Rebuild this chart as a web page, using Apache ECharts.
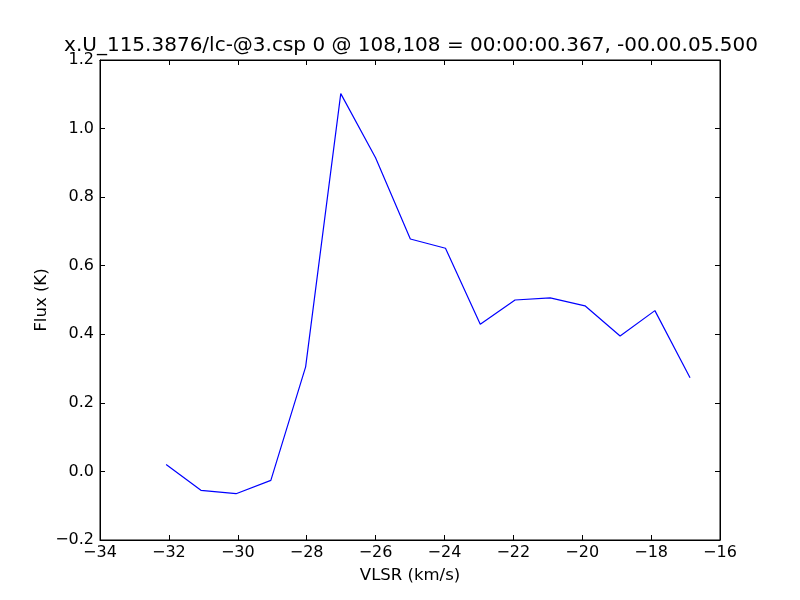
<!DOCTYPE html>
<html>
<head>
<meta charset="utf-8">
<script src="https://cdn.jsdelivr.net/npm/echarts@6/dist/echarts.min.js"></script>
<style>html,body{margin:0;padding:0;background:#fff;}#c{width:800px;height:600px;}</style>
</head>
<body>
<div id="c"></div>
<script>
const titleText = "x.U_115.3876/lc-@3.csp 0 @ 108,108 = 00:00:00.367, -00.00.05.500";
const xLabel = "VLSR (km/s)";
const yLabel = "Flux (K)";
const velocity = [-32.08, -31.07, -30.05, -29.04, -28.03, -27.01, -26.00, -24.99, -23.97, -22.96, -21.95, -20.93, -19.92, -18.90, -17.89, -16.87];
const flux = [0.020, -0.055, -0.065, -0.026, 0.305, 1.102, 0.915, 0.678, 0.651, 0.429, 0.500, 0.506, 0.483, 0.395, 0.469, 0.273];
const xRange = [-34, -16, 2];
const yRange = [-0.2, 1.2, 0.2];

const font = "DejaVu Sans";
const minus = v => String(v).replace('-', '\u2212');
const fmtX = v => minus(Math.round(v));
const fmtY = v => minus((Math.round(v * 10) / 10).toFixed(1));

const chart = echarts.init(document.getElementById('c'), null, {renderer: 'canvas'});
const baseAxisLine = {show: true, onZero: false, lineStyle: {color: '#000', width: 1}};
const tick = {show: true, inside: true, length: 5, lineStyle: {color: '#000'}};
chart.setOption({
  animation: false,
  backgroundColor: '#fff',
  title: {
    text: titleText, left: 406, top: 31, textAlign: 'center',
    textStyle: {fontFamily: font, fontSize: 20, fontWeight: 'normal', color: '#000'}
  },
  grid: {left: 100, right: 80, top: 60, bottom: 60, show: true, borderColor: '#000', borderWidth: 1, backgroundColor: '#fff'},
  xAxis: [{
    type: 'value', min: xRange[0], max: xRange[1], interval: xRange[2], position: 'bottom',
    name: xLabel, nameLocation: 'middle', nameGap: 27,
    nameTextStyle: {fontFamily: font, fontSize: 16.5, color: '#000'},
    axisLine: baseAxisLine, axisTick: tick, splitLine: {show: false},
    axisLabel: {fontFamily: font, fontSize: 16, color: '#000', margin: 5, formatter: fmtX}
  }, {
    type: 'value', min: xRange[0], max: xRange[1], interval: xRange[2], position: 'top',
    axisLine: baseAxisLine, axisTick: tick, splitLine: {show: false}, axisLabel: {show: false}
  }],
  yAxis: [{
    type: 'value', min: yRange[0], max: yRange[1], interval: yRange[2], position: 'left',
    name: yLabel, nameLocation: 'middle', nameGap: 50, nameRotate: 90, nameMoveOverlap: false,
    nameTextStyle: {fontFamily: font, fontSize: 16.5, color: '#000'},
    axisLine: baseAxisLine, axisTick: tick, splitLine: {show: false},
    axisLabel: {fontFamily: font, fontSize: 16, color: '#000', margin: 6, formatter: fmtY}
  }, {
    type: 'value', min: yRange[0], max: yRange[1], interval: yRange[2], position: 'right',
    axisLine: baseAxisLine, axisTick: tick, splitLine: {show: false}, axisLabel: {show: false}
  }],
  series: [{
    type: 'line',
    data: velocity.map((v, i) => [v, flux[i]]),
    xAxisIndex: 0, yAxisIndex: 0,
    symbol: 'none', lineStyle: {color: '#0000ff', width: 1.2}, itemStyle: {color: '#0000ff'}
  }]
});
</script>
</body>
</html>
